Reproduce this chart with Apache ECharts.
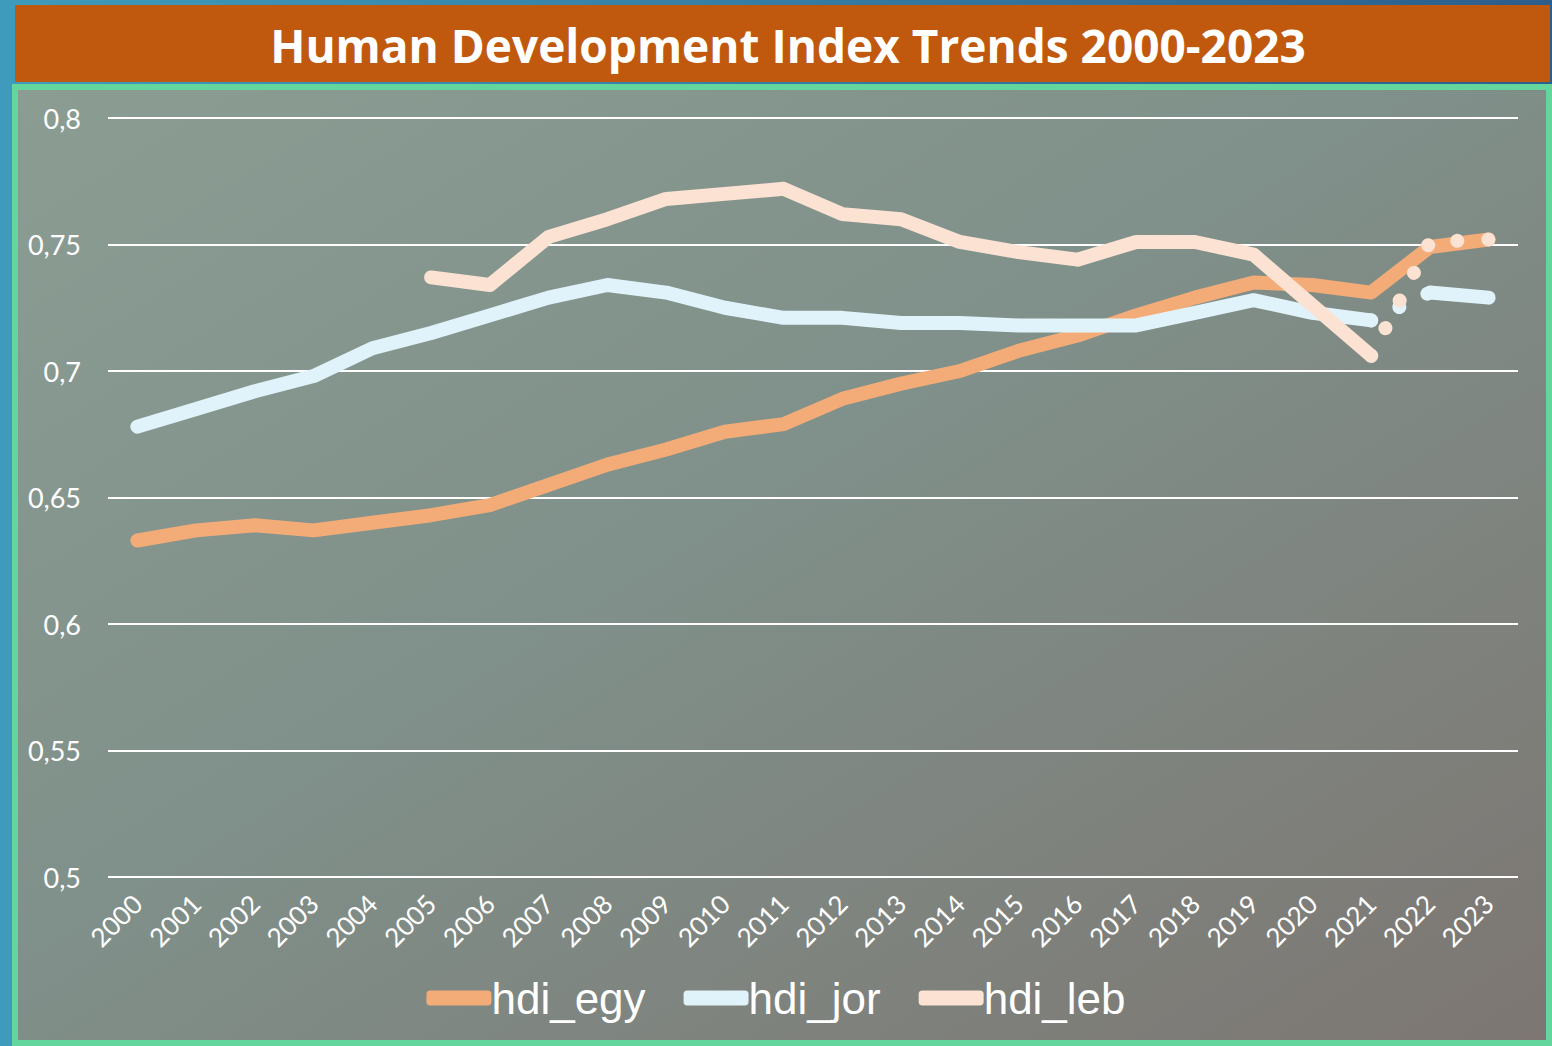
<!DOCTYPE html>
<html>
<head>
<meta charset="utf-8">
<script src="https://cdn.jsdelivr.net/npm/echarts@6/dist/echarts.min.js"></script>
<style>
  html, body { margin: 0; padding: 0; background: #3a8fb3; }
  #chart { width: 1552px; height: 1046px; }
</style>
</head>
<body>
<div id="chart"></div>
<script>
// ---- data ----
const years = ['2000','2001','2002','2003','2004','2005','2006','2007','2008','2009','2010','2011',
               '2012','2013','2014','2015','2016','2017','2018','2019','2020','2021','2022','2023'];
const hdiEgy = [0.633,0.637,0.639,0.637,0.640,0.643,0.647,0.655,0.663,0.669,0.676,0.679,
                0.689,0.695,0.700,0.708,0.714,0.722,0.729,0.735,0.734,0.731,0.749,0.752];
const hdiJor = [0.678,0.685,0.692,0.698,0.709,0.715,0.722,0.729,0.734,0.731,0.725,0.721,
                0.721,0.719,0.719,0.718,0.718,0.718,0.723,0.728,0.723,0.720,0.731,0.729];
const hdiLeb = [null,null,null,null,null,0.737,0.734,0.753,0.760,0.768,0.770,0.772,
                0.762,0.760,0.751,0.747,0.744,0.751,0.751,0.746,0.726,0.706,0.751,0.752];
// year ranges drawn as a dotted (gap) segment instead of a solid line
const jorDotted = ['2021','2022'];
const lebDotted = ['2021','2023'];
const yTickFormat = v => String(+v.toFixed(2)).replace('.', ',');

// ---- helpers ----
function slice(values, from, to) {
  const a = years.indexOf(from), b = years.indexOf(to);
  return values.map((v, i) => (i >= a && i <= b ? v : null));
}
const colEgy = '#f3ac77', colJor = '#e1f3fa', colLeb = '#fbe2d2';

function solid(name, color, data, z) {
  return {
    name, type: 'line', data, showSymbol: false, symbol: 'none', connectNulls: false,
    z, silent: true,
    itemStyle: { color },
    lineStyle: { color, width: 14, cap: 'round', join: 'round' }
  };
}
function dotted(name, color, data, z) {
  return {
    name, type: 'line', data, showSymbol: false, symbol: 'none', z, silent: true,
    itemStyle: { color },
    lineStyle: { color, width: 14, type: [0.1, 31], cap: 'round', join: 'round' }
  };
}

const series = [
  solid('hdi_egy', colEgy, hdiEgy, 2),
  solid('hdi_jor', colJor, slice(hdiJor, years[0], jorDotted[0]), 3),
  solid('hdi_jor', colJor, slice(hdiJor, jorDotted[1], years[years.length - 1]), 3),
  solid('hdi_leb', colLeb, slice(hdiLeb, years[0], lebDotted[0]), 4),
  dotted('hdi_jor_gap', colJor, slice(hdiJor, jorDotted[0], jorDotted[1]), 5),
  dotted('hdi_leb_gap', colLeb, slice(hdiLeb, lebDotted[0], lebDotted[1]), 6)
];

const chart = echarts.init(document.getElementById('chart'), null, { renderer: 'svg' });
chart.setOption({
  animation: false,
  backgroundColor: {
    type: 'linear', x: 0, y: 0, x2: 1, y2: 0,
    colorStops: [{ offset: 0, color: '#3f9bbb' }, { offset: 1, color: '#2d5e8d' }]
  },
  graphic: [
    {
      type: 'rect', z: -10, silent: true,
      shape: { x: 15, y: 5, width: 1535, height: 77 },
      style: { fill: '#c0590e' }
    },
    {
      type: 'rect', z: -10, silent: true,
      shape: { x: 15, y: 87, width: 1534, height: 956 },
      style: {
        fill: {
          type: 'linear', x: 0, y: 0, x2: 1, y2: 1,
          colorStops: [
            { offset: 0, color: '#8b9d93' },
            { offset: 0.45, color: '#80908a' },
            { offset: 1, color: '#7d7672' }
          ]
        },
        stroke: '#62d69c', lineWidth: 6
      }
    }
  ],
  title: {
    text: 'Human Development Index Trends 2000-2023',
    left: 783, top: 17, textAlign: 'center',
    textStyle: { color: '#ffffff', fontFamily: 'Open Sans', fontWeight: 'bold', fontSize: 46 }
  },
  legend: {
    data: ['hdi_egy', 'hdi_jor', 'hdi_leb'],
    left: 'center', top: 971,
    icon: 'roundRect', itemWidth: 65, itemHeight: 15, itemGap: 38,
    selectedMode: false,
    textStyle: { color: '#ffffff', fontFamily: 'Liberation Sans', fontSize: 44, padding: [0, 0, 0, -5] }
  },
  grid: { left: 108, right: 34, top: 118, bottom: 169, containLabel: false },
  xAxis: {
    type: 'category', data: years, boundaryGap: true,
    axisLine: { show: false }, axisTick: { show: false },
    axisLabel: { rotate: 45, margin: 22, color: '#ffffff', fontFamily: 'Lato', fontSize: 26, interval: 0 }
  },
  yAxis: {
    type: 'value', min: 0.5, max: 0.8, interval: 0.05,
    axisLine: { show: false }, axisTick: { show: false },
    axisLabel: { formatter: yTickFormat, color: '#ffffff', fontFamily: 'Lato', fontSize: 27, margin: 27 },
    splitLine: { lineStyle: { color: '#ffffff', width: 2 } }
  },
  series
});
</script>
</body>
</html>
